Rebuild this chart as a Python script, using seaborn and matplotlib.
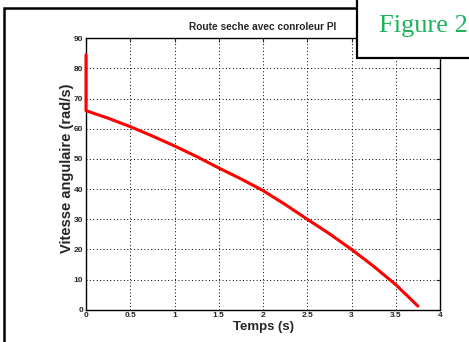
import matplotlib
matplotlib.use("Agg")
import matplotlib.pyplot as plt
import seaborn as sns
import pandas as pd
from matplotlib.patches import Rectangle

# Data
temps = [0.0, 0.0, 0.25, 0.5, 0.75, 1.0, 1.25, 1.5, 1.75, 2.0, 2.25, 2.5, 2.75, 3.0, 3.25, 3.5, 3.75]
vitesse = [84.5, 66.0, 63.5, 60.7, 57.6, 54.3, 50.8, 47.0, 43.4, 39.5, 34.9, 30.0, 25.2, 20.0, 14.4, 8.3, 1.2]
xticks = [0, 0.5, 1, 1.5, 2, 2.5, 3, 3.5, 4]
yticks = [0, 10, 20, 30, 40, 50, 60, 70, 80, 90]
xtick_labels = ["0", "0.5", "1", "1.5", "2", "2.5", "3", "3.5", "4"]

sns.set_style("white")
plt.rcParams['font.family'] = ['Liberation Sans', 'DejaVu Sans']

df = pd.DataFrame({"t": temps, "v": vitesse})

fig = plt.figure(figsize=(4.69, 3.42), dpi=100)
# outer frame (right and bottom edges fall outside the image)
fig.patches.append(Rectangle((4/469, -0.1), 1.2, 1.1 + (342-8)/342 - 1.0, transform=fig.transFigure,
                             fill=False, edgecolor='black', linewidth=1.8, zorder=0))
ax = fig.add_axes([86/469, 1-309.7/342, (440-86)/469, (309.7-38.3)/342])
sns.lineplot(data=df, x="t", y="v", sort=False, estimator=None, color="#ff0000", linewidth=2.2, ax=ax)
for ln in ax.get_lines():
    ln.set_clip_on(False)
    ln.set_zorder(5)
ax.set_xlim(0, 4)
ax.set_ylim(0, 90)
ax.set_xticks(xticks)
ax.set_xticklabels(xtick_labels)
ax.set_yticks(yticks)
ax.grid(True, linestyle=(0, (1, 2.5)), color='black', linewidth=0.7)
ax.tick_params(direction='in', length=3, width=0.8, labelsize=6, top=True, right=True, pad=2)
for lab in ax.get_xticklabels() + ax.get_yticklabels():
    lab.set_fontweight('bold')
for s in ax.spines.values():
    s.set_linewidth(1.0)
    s.set_color('black')
ax.set_xlabel("Temps (s)", fontsize=9.5, fontweight='bold', labelpad=1)
ax.set_ylabel("Vitesse angulaire (rad/s)", fontsize=10.5, fontweight='bold', labelpad=1)
ax.yaxis.set_label_coords(-0.035, 0.52)
ax.set_title("Route seche avec conroleur PI", fontsize=7.3, fontweight='bold', pad=6)

# Figure 2 box
fig.patches.append(Rectangle((357/469, 1-58/342), 0.3, 58/342 + 0.01, transform=fig.transFigure,
                             facecolor='white', edgecolor='black', linewidth=1.6, zorder=5))
fig.text(379/469, 1-32/342, "Figure 2", fontsize=19, color='#1db35a',
         family=['Liberation Serif', 'DejaVu Serif'], ha='left', va='baseline', zorder=6)

fig.savefig("out.png", dpi=100)
